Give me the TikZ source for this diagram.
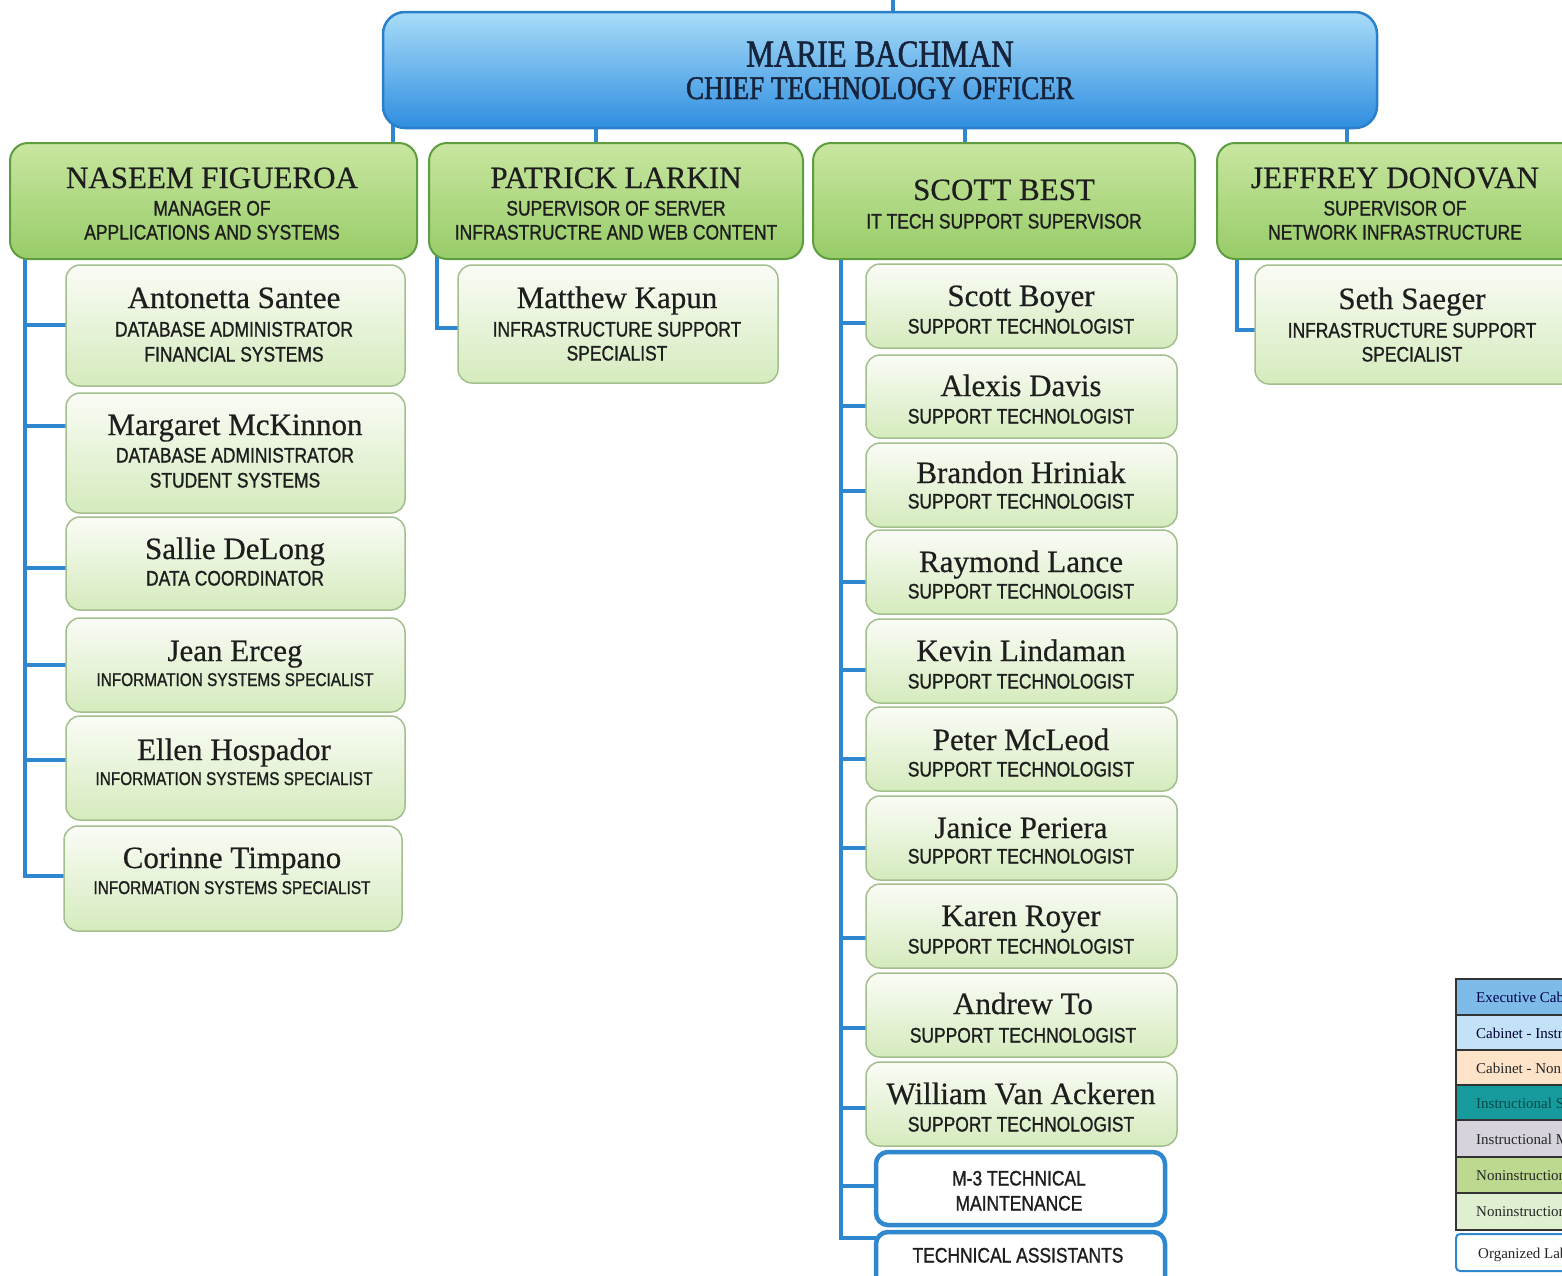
\documentclass[tikz,border=0pt]{standalone}
\usepackage{fontspec}
\setmainfont{Liberation Serif}
\newfontfamily\nmfont[FakeBold=0.5]{Liberation Serif}
\newfontfamily\lgfont{Liberation Serif}
\newfontfamily\ctofont[FakeStretch=0.82, FakeBold=1.4]{Liberation Serif}
\newfontfamily\tlfont[FakeStretch=0.83, FakeBold=1.1]{Liberation Sans}
\definecolor{connblue}{HTML}{2F87CF}
\definecolor{ctotop}{HTML}{A8DCF8}
\definecolor{ctobot}{HTML}{2F8EE0}
\definecolor{ctoborder}{HTML}{2B80CC}
\definecolor{mgrtop}{HTML}{C8E6A0}
\definecolor{mgrbot}{HTML}{98CC68}
\definecolor{mgrborder}{HTML}{5E9E40}
\definecolor{subtop}{HTML}{FAFCF6}
\definecolor{subbot}{HTML}{D5EBBD}
\definecolor{subborder}{HTML}{A3BF8E}
\definecolor{txt}{HTML}{1E1E1E}
\definecolor{ctotxt}{HTML}{17233A}
\definecolor{lg1}{HTML}{7FBBE9}
\definecolor{lg2}{HTML}{C4E2F7}
\definecolor{lg3}{HTML}{FDE3C8}
\definecolor{lg4}{HTML}{179A9C}
\definecolor{lg5}{HTML}{D6D3DD}
\definecolor{lg6}{HTML}{BCD98F}
\definecolor{lg7}{HTML}{DEF0D0}
\pgfdeclarelayer{bg}
\pgfsetlayers{bg,main}
\tikzset{
  conn/.style={draw=connblue, line width=4pt},
  anybox/.style={inner sep=0pt, outer sep=0pt},
  ctobox/.style={anybox, draw=ctoborder, line width=2.5pt, rounded corners=22pt, top color=ctotop, bottom color=ctobot},
  mgrbox/.style={anybox, draw=mgrborder, line width=2pt, rounded corners=18pt, top color=mgrtop, bottom color=mgrbot},
  subbox/.style={anybox, draw=subborder, line width=1.5pt, rounded corners=14pt, top color=subtop, bottom color=subbot},
  labbox/.style={anybox, draw=connblue, line width=4.5pt, rounded corners=12pt, fill=white},
  lgrow/.style={anybox, draw=black!80, line width=1.3pt, anchor=north west, minimum width=140pt},
  ctonm/.style={anchor=base, inner sep=0pt, text=ctotxt, font=\ctofont\fontsize{38}{38}\selectfont},
  ctotl/.style={anchor=base, inner sep=0pt, text=ctotxt, font=\ctofont\fontsize{33}{33}\selectfont},
  mnm/.style={anchor=base, inner sep=0pt, text=txt, font=\nmfont\fontsize{31}{31}\selectfont},
  nm/.style={anchor=base, inner sep=0pt, text=txt, font=\nmfont\fontsize{31}{31}\selectfont},
  tl/.style={anchor=base, inner sep=0pt, text=txt, font=\tlfont\fontsize{21}{21}\selectfont},
  tls/.style={anchor=base, inner sep=0pt, text=txt, font=\tlfont\fontsize{18.5}{18.5}\selectfont},
  lgtxt/.style={anchor=base west, inner sep=0pt, font=\lgfont\fontsize{15}{15}\selectfont},
}
\newcommand\bx[6]{\node[#1, minimum width={#5-#3}, minimum height={#6-#4}] (#2) at ({(#3+#5)/2},{(#4+#6)/2}) {};}
\newcommand\tx[5]{\node[#1] (#2) at (#3,#4) {#5};}
\begin{document}
\begin{tikzpicture}[x=1pt,y=-1pt]
\useasboundingbox (0,0) rectangle (1562,1275);
\begin{pgfonlayer}{bg}
\fill[white] (0,0) rectangle (1562,1275);
\end{pgfonlayer}
\clip (0,0) rectangle (1562,1275);

% ---- chief
\bx{ctobox}{cto}{383}{12}{1377}{128}
\tx{ctonm}{cto-n}{880}{66.5}{MARIE BACHMAN}
\tx{ctotl}{cto-t}{880}{99}{CHIEF TECHNOLOGY OFFICER}
\coordinate (topin) at (893,0);

% ---- managers
\bx{mgrbox}{naseem}{10}{143}{417}{259}
\tx{mnm}{naseem-n}{212}{188}{NASEEM FIGUEROA}
\tx{tl}{naseem-t1}{212}{215.5}{MANAGER OF}
\tx{tl}{naseem-t2}{212}{239.5}{APPLICATIONS AND SYSTEMS}

\bx{mgrbox}{patrick}{429}{143}{803}{259}
\tx{mnm}{patrick-n}{616}{188}{PATRICK LARKIN}
\tx{tl}{patrick-t1}{616}{215.5}{SUPERVISOR OF SERVER}
\tx{tl}{patrick-t2}{616}{239.5}{INFRASTRUCTRE AND WEB CONTENT}

\bx{mgrbox}{scott}{813}{143}{1195}{259}
\tx{mnm}{scott-n}{1004}{200}{SCOTT BEST}
\tx{tl}{scott-t1}{1004}{228.5}{IT TECH SUPPORT SUPERVISOR}

\bx{mgrbox}{jeffrey}{1217}{143}{1610}{259}
\tx{mnm}{jeffrey-n}{1395}{188}{JEFFREY DONOVAN}
\tx{tl}{jeffrey-t1}{1395}{215.5}{SUPERVISOR OF}
\tx{tl}{jeffrey-t2}{1395}{239.5}{NETWORK INFRASTRUCTURE}

% ---- applications and systems
\bx{subbox}{antonetta}{66}{265}{405}{386}
\tx{nm}{antonetta-n}{234}{308}{Antonetta Santee}
\tx{tl}{antonetta-t1}{234}{336.5}{DATABASE ADMINISTRATOR}
\tx{tl}{antonetta-t2}{234}{361.5}{FINANCIAL SYSTEMS}

\bx{subbox}{margaret}{66}{393}{405}{513}
\tx{nm}{margaret-n}{235}{435}{Margaret McKinnon}
\tx{tl}{margaret-t1}{235}{462.5}{DATABASE ADMINISTRATOR}
\tx{tl}{margaret-t2}{235}{487.5}{STUDENT SYSTEMS}

\bx{subbox}{sallie}{66}{517}{405}{610}
\tx{nm}{sallie-n}{235}{559}{Sallie DeLong}
\tx{tl}{sallie-t1}{235}{585.5}{DATA COORDINATOR}

\bx{subbox}{jean}{66}{618}{405}{712}
\tx{nm}{jean-n}{235}{661}{Jean Erceg}
\tx{tls}{jean-t1}{235}{686}{INFORMATION SYSTEMS SPECIALIST}

\bx{subbox}{ellen}{66}{716}{405}{820}
\tx{nm}{ellen-n}{234}{760}{Ellen Hospador}
\tx{tls}{ellen-t1}{234}{785}{INFORMATION SYSTEMS SPECIALIST}

\bx{subbox}{corinne}{64}{826}{402}{931}
\tx{nm}{corinne-n}{232}{868}{Corinne Timpano}
\tx{tls}{corinne-t1}{232}{894}{INFORMATION SYSTEMS SPECIALIST}

% ---- server infrastructure
\bx{subbox}{matthew}{458}{265}{778}{383}
\tx{nm}{matthew-n}{617}{308}{Matthew Kapun}
\tx{tl}{matthew-t1}{617}{336.5}{INFRASTRUCTURE SUPPORT}
\tx{tl}{matthew-t2}{617}{360.5}{SPECIALIST}

% ---- network infrastructure
\bx{subbox}{seth}{1255}{265}{1610}{384}
\tx{nm}{seth-n}{1412}{309}{Seth Saeger}
\tx{tl}{seth-t1}{1412}{337.5}{INFRASTRUCTURE SUPPORT}
\tx{tl}{seth-t2}{1412}{361.5}{SPECIALIST}

% ---- tech support
\bx{subbox}{boyer}{866}{264}{1177}{348}
\tx{nm}{boyer-n}{1021}{306}{Scott Boyer}
\tx{tl}{boyer-t1}{1021}{333.5}{SUPPORT TECHNOLOGIST}

\bx{subbox}{davis}{866}{355}{1177}{438}
\tx{nm}{davis-n}{1021}{396}{Alexis Davis}
\tx{tl}{davis-t1}{1021}{423.5}{SUPPORT TECHNOLOGIST}

\bx{subbox}{hriniak}{866}{443}{1177}{527}
\tx{nm}{hriniak-n}{1021}{483}{Brandon Hriniak}
\tx{tl}{hriniak-t1}{1021}{508.5}{SUPPORT TECHNOLOGIST}

\bx{subbox}{lance}{866}{530}{1177}{614}
\tx{nm}{lance-n}{1021}{572}{Raymond Lance}
\tx{tl}{lance-t1}{1021}{598.5}{SUPPORT TECHNOLOGIST}

\bx{subbox}{lindaman}{866}{619}{1177}{703}
\tx{nm}{lindaman-n}{1021}{661}{Kevin Lindaman}
\tx{tl}{lindaman-t1}{1021}{688.5}{SUPPORT TECHNOLOGIST}

\bx{subbox}{mcleod}{866}{707}{1177}{791}
\tx{nm}{mcleod-n}{1021}{750}{Peter McLeod}
\tx{tl}{mcleod-t1}{1021}{776.5}{SUPPORT TECHNOLOGIST}

\bx{subbox}{periera}{866}{796}{1177}{880}
\tx{nm}{periera-n}{1021}{838}{Janice Periera}
\tx{tl}{periera-t1}{1021}{863.5}{SUPPORT TECHNOLOGIST}

\bx{subbox}{royer}{866}{884}{1177}{968}
\tx{nm}{royer-n}{1021}{926}{Karen Royer}
\tx{tl}{royer-t1}{1021}{953.5}{SUPPORT TECHNOLOGIST}

\bx{subbox}{andrew}{866}{973}{1177}{1057}
\tx{nm}{andrew-n}{1023}{1014}{Andrew To}
\tx{tl}{andrew-t1}{1023}{1042.5}{SUPPORT TECHNOLOGIST}

\bx{subbox}{william}{866}{1062}{1177}{1146}
\tx{nm}{william-n}{1021}{1104}{William Van Ackeren}
\tx{tl}{william-t1}{1021}{1131.5}{SUPPORT TECHNOLOGIST}

\bx{labbox}{mthree}{876}{1152}{1165}{1225}
\tx{tl}{mthree-t1}{1019}{1185.5}{M-3 TECHNICAL}
\tx{tl}{mthree-t2}{1019}{1210.5}{MAINTENANCE}

\bx{labbox}{assist}{876}{1232}{1165}{1300}
\tx{tl}{assist-t1}{1018}{1262.5}{TECHNICAL ASSISTANTS}

% ---- legend
\node[lgrow, fill=lg1, minimum height=36pt] (lgA) at (1456,979) {};
\node[lgrow, fill=lg2, minimum height=35pt] (lgB) at (1456,1015) {};
\node[lgrow, fill=lg3, minimum height=35pt] (lgC) at (1456,1050) {};
\node[lgrow, fill=lg4, minimum height=35pt] (lgD) at (1456,1085) {};
\node[lgrow, fill=lg5, minimum height=37pt] (lgE) at (1456,1120) {};
\node[lgrow, fill=lg6, minimum height=36pt] (lgF) at (1456,1157) {};
\node[lgrow, fill=lg7, minimum height=37pt] (lgG) at (1456,1193) {};
\node[anybox, draw=connblue, line width=2pt, rounded corners=4pt, fill=white, anchor=north west, minimum width=140pt, minimum height=37pt] (lgH) at (1456,1234) {};
\tx{lgtxt, text=blue!30!black}{lgA-t}{1476}{1002}{Executive Cab}
\tx{lgtxt, text=blue!20!black}{lgB-t}{1476}{1038}{Cabinet - Instr}
\tx{lgtxt, text=black!85}{lgC-t}{1476}{1073}{Cabinet - Non}
\tx{lgtxt, text=teal!60!black}{lgD-t}{1476}{1108}{Instructional S}
\tx{lgtxt, text=black!85}{lgE-t}{1476}{1144}{Instructional M}
\tx{lgtxt, text=black!85}{lgF-t}{1476}{1180}{Noninstruction}
\tx{lgtxt, text=black!85}{lgG-t}{1476}{1216}{Noninstruction}
\tx{lgtxt, text=black!85}{lgH-t}{1478}{1258}{Organized Lab}

% ---- connectors
\begin{pgfonlayer}{bg}
\draw[conn] (topin) -- (cto.north -| topin);
\draw[conn] (cto.center -| 393,0) -- (naseem.center -| 393,0);
\draw[conn] (cto.center -| 596,0) -- (patrick.center -| 596,0);
\draw[conn] (cto.center -| 965,0) -- (scott.center -| 965,0);
\draw[conn] (cto.center -| 1347,0) -- (jeffrey.center -| 1347,0);

\coordinate (nv) at (25,0);
\draw[conn] (naseem.center -| nv) |- (corinne.west |- 0,876);
\draw[conn] (nv |- 0,325) -- (antonetta.west |- 0,325);
\draw[conn] (nv |- 0,426) -- (margaret.west |- 0,426);
\draw[conn] (nv |- 0,568) -- (sallie.west |- 0,568);
\draw[conn] (nv |- 0,665) -- (jean.west |- 0,665);
\draw[conn] (nv |- 0,760) -- (ellen.west |- 0,760);

\draw[conn] (patrick.center -| 437,0) |- (matthew.west |- 0,328);
\draw[conn] (jeffrey.center -| 1237,0) |- (seth.west |- 0,330);

\coordinate (sv) at (841,0);
\draw[conn] (scott.center -| sv) |- (assist.west |- 0,1238);
\draw[conn] (sv |- 0,323) -- (boyer.west |- 0,323);
\draw[conn] (sv |- 0,406) -- (davis.west |- 0,406);
\draw[conn] (sv |- 0,491) -- (hriniak.west |- 0,491);
\draw[conn] (sv |- 0,582) -- (lance.west |- 0,582);
\draw[conn] (sv |- 0,670) -- (lindaman.west |- 0,670);
\draw[conn] (sv |- 0,759) -- (mcleod.west |- 0,759);
\draw[conn] (sv |- 0,848) -- (periera.west |- 0,848);
\draw[conn] (sv |- 0,938) -- (royer.west |- 0,938);
\draw[conn] (sv |- 0,1028) -- (andrew.west |- 0,1028);
\draw[conn] (sv |- 0,1108) -- (william.west |- 0,1108);
\draw[conn] (sv |- 0,1186) -- (mthree.west |- 0,1186);
\end{pgfonlayer}
\end{tikzpicture}
\end{document}
